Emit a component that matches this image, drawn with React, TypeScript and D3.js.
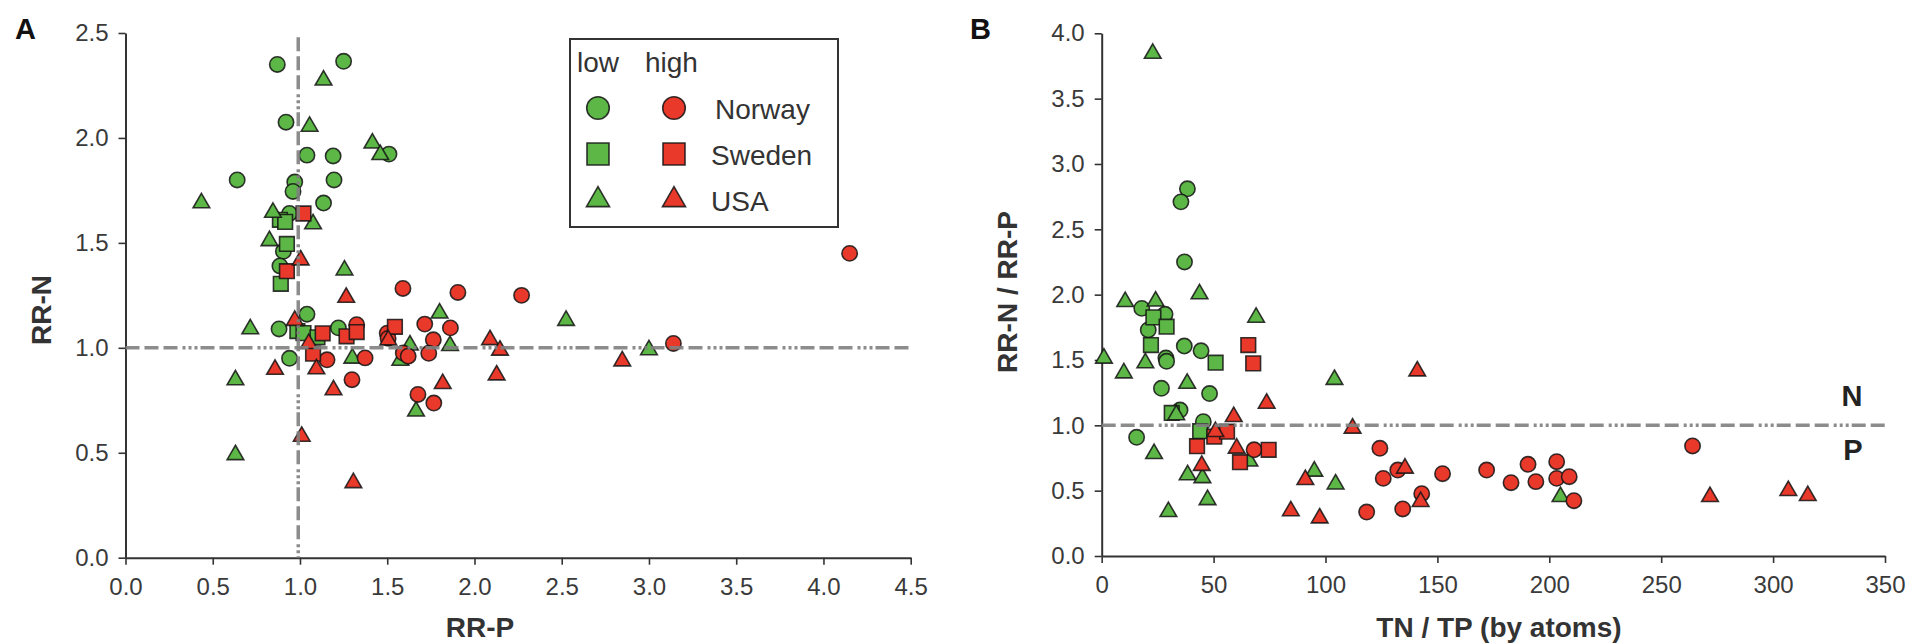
import { useEffect, useRef } from "react";
import * as d3 from "d3";

type Pt = [number, number];

// Panel A: RR-P (x) vs RR-N (y)
const aLowNorway: Pt[] = [
  [0.87, 2.35], [1.25, 2.365], [0.92, 2.075], [1.04, 1.918], [1.19, 1.914],
  [1.51, 1.923], [0.64, 1.8], [0.97, 1.79], [0.96, 1.745], [1.195, 1.8],
  [1.135, 1.69], [0.94, 1.64], [0.905, 1.46], [0.885, 1.39], [1.04, 1.16],
  [0.88, 1.09], [1.22, 1.095], [0.94, 0.95],
];
const aLowSweden: Pt[] = [
  [0.885, 1.61], [0.915, 1.6], [0.925, 1.495], [0.89, 1.305], [0.985, 1.08],
  [1.02, 1.07], [1.1, 1.05],
];
const aLowUSA: Pt[] = [
  [1.135, 2.275], [1.055, 2.055], [1.415, 1.975], [1.46, 1.92], [0.435, 1.69],
  [0.845, 1.645], [1.075, 1.59], [0.825, 1.51], [1.255, 1.37], [0.715, 1.09],
  [1.8, 1.165], [1.63, 1.013], [1.86, 1.01], [1.575, 0.94], [1.3, 0.95],
  [1.665, 0.698], [0.63, 0.847], [0.63, 0.49], [2.525, 1.13], [3.0, 0.99],
];
const aHighNorway: Pt[] = [
  [1.59, 1.283], [1.905, 1.264], [2.27, 1.25], [1.325, 1.11], [1.5, 1.07],
  [1.505, 1.045], [1.715, 1.113], [1.862, 1.095], [1.764, 1.038], [1.592, 0.975],
  [1.62, 0.96], [1.738, 0.974], [1.155, 0.943], [1.373, 0.952], [1.298, 0.848],
  [1.676, 0.778], [1.767, 0.737], [3.14, 1.021], [4.15, 1.45],
];
const aHighSweden: Pt[] = [
  [1.02, 1.64], [0.925, 1.365], [1.13, 1.069], [1.267, 1.055], [1.325, 1.075],
  [1.544, 1.1], [1.075, 0.972],
];
const aHighUSA: Pt[] = [
  [1.004, 1.418], [1.265, 1.24], [0.97, 1.13], [1.05, 1.02], [0.857, 0.897],
  [1.094, 0.899], [1.192, 0.799], [1.818, 0.829], [1.01, 0.578], [1.306, 0.357],
  [2.089, 1.038], [2.146, 0.988], [2.127, 0.87], [2.847, 0.937], [1.506, 1.037],
];

// Panel B: TN/TP (x) vs RR-N/RR-P (y)
const bLowNorway: Pt[] = [
  [38.3, 2.81], [35.4, 2.71], [37, 2.25], [17.9, 1.895], [28.3, 1.85],
  [20.8, 1.73], [36.9, 1.607], [44.4, 1.57], [28.7, 1.515], [29, 1.49],
  [26.7, 1.283], [48.2, 1.243], [35, 1.117], [45.4, 1.028], [15.6, 0.908],
];
const bLowSweden: Pt[] = [
  [23.1, 1.826], [29, 1.755], [22, 1.614], [50.9, 1.479], [31.3, 1.095],
  [44, 0.955],
];
const bLowUSA: Pt[] = [
  [22.8, 3.846], [43.7, 2.005], [10.5, 1.946], [24.1, 1.95], [69, 1.826],
  [1, 1.513], [9.9, 1.4], [19.5, 1.477], [38.2, 1.32], [33.3, 1.08],
  [23.4, 0.783], [66, 0.725], [38.4, 0.62], [45, 0.598], [47.3, 0.43],
  [29.8, 0.339], [95, 0.648], [104.5, 0.55], [104, 1.35], [205, 0.454],
];
const bHighNorway: Pt[] = [
  [68.1, 0.813], [124.3, 0.824], [125.8, 0.594], [132.3, 0.658], [118.4, 0.336],
  [134.5, 0.36], [143, 0.477], [152.3, 0.63], [172, 0.658], [182.9, 0.561],
  [190.5, 0.702], [194, 0.569], [203.3, 0.722], [203.3, 0.594], [208.9, 0.607],
  [211, 0.423], [264, 0.842],
];
const bHighSweden: Pt[] = [
  [65.5, 1.614], [67.7, 1.474], [42.6, 0.84], [50.3, 0.913], [56, 0.951],
  [61.8, 0.718], [74.6, 0.813],
];
const bHighUSA: Pt[] = [
  [73.7, 1.168], [59, 1.066], [50.8, 0.951], [44.7, 0.692], [60.3, 0.824],
  [84.5, 0.345], [91, 0.584], [97.4, 0.29], [112.1, 0.977], [141, 1.415],
  [135.5, 0.671], [142.5, 0.416], [271.8, 0.454], [306.8, 0.5], [315.5, 0.461],
];

// ticks
const xTicksA = [0, 0.5, 1, 1.5, 2, 2.5, 3, 3.5, 4, 4.5];
const yTicksA = [0, 0.5, 1, 1.5, 2, 2.5];
const xTicksB = [0, 50, 100, 150, 200, 250, 300, 350];
const yTicksB = [0, 0.5, 1, 1.5, 2, 2.5, 3, 3.5, 4];

const countries = ["Norway", "Sweden", "USA"];
const levels = ["low", "high"];

const FONT = "'Liberation Sans', Arial, Helvetica, sans-serif";
const INK = "#333";
const COLORS: Record<string, string> = { low: "#5cb746", high: "#e8392b" };
const SHAPES: Record<string, d3.SymbolType> = {
  Norway: d3.symbolCircle,
  Sweden: d3.symbolSquare,
  USA: d3.symbolTriangle,
};
// symbol areas for the plot markers
const SIZES: Record<string, number> = { Norway: 185, Sweden: 215, USA: 120 };

type Series = { level: string; country: string; pts: Pt[] };

const seriesA: Series[] = [
  { level: "low", country: "Norway", pts: aLowNorway },
  { level: "low", country: "Sweden", pts: aLowSweden },
  { level: "low", country: "USA", pts: aLowUSA },
  { level: "high", country: "Norway", pts: aHighNorway },
  { level: "high", country: "Sweden", pts: aHighSweden },
  { level: "high", country: "USA", pts: aHighUSA },
];
const seriesB: Series[] = [
  { level: "low", country: "Norway", pts: bLowNorway },
  { level: "low", country: "Sweden", pts: bLowSweden },
  { level: "low", country: "USA", pts: bLowUSA },
  { level: "high", country: "Norway", pts: bHighNorway },
  { level: "high", country: "Sweden", pts: bHighSweden },
  { level: "high", country: "USA", pts: bHighUSA },
];

type PanelOpts = {
  x: d3.ScaleLinear<number, number>;
  y: d3.ScaleLinear<number, number>;
  xTicks: number[];
  yTicks: number[];
  xFmt: (v: number) => string;
  series: Series[];
};

function drawPanel(
  svg: d3.Selection<SVGSVGElement, unknown, null, undefined>,
  { x, y, xTicks, yTicks, xFmt, series }: PanelOpts,
) {
  const g = svg.append("g");

  const styleAxis = (a: d3.Selection<SVGGElement, unknown, null, undefined>) => {
    a.select(".domain").attr("stroke", INK).attr("stroke-width", 2);
    a.selectAll(".tick line").attr("stroke", INK).attr("stroke-width", 1.6);
    a.selectAll("text")
      .attr("font-size", 24)
      .attr("font-family", FONT)
      .attr("fill", "#3a3a3a");
  };

  g.append("g")
    .attr("transform", `translate(0,${y(0)})`)
    .call(
      d3
        .axisBottom(x)
        .tickValues(xTicks)
        .tickSize(7)
        .tickSizeOuter(0)
        .tickPadding(13)
        .tickFormat((d) => xFmt(d as number)),
    )
    .call(styleAxis);

  g.append("g")
    .attr("transform", `translate(${x(0)},0)`)
    .call(
      d3
        .axisLeft(y)
        .tickValues(yTicks)
        .tickSize(7)
        .tickSizeOuter(0)
        .tickPadding(10)
        .tickFormat((d) => d3.format(".1f")(d as number)),
    )
    .call(styleAxis);

  // markers
  series.forEach((s) => {
    const sym = d3.symbol().type(SHAPES[s.country]).size(SIZES[s.country]);
    g.append("g")
      .selectAll("path")
      .data(s.pts)
      .join("path")
      .attr("transform", (d) => `translate(${x(d[0])},${y(d[1])})`)
      .attr("d", sym() as string)
      .attr("fill", COLORS[s.level])
      .attr("stroke", "rgba(20,20,20,0.85)")
      .attr("stroke-width", 1.6);
  });

  return g;
}

const REF_DASH = "14,5,14,5,14,5,3,3,3,3,3,3";
const REF_COLOR = "#808080";

export default function App() {
  const ref = useRef<SVGSVGElement>(null);

  useEffect(() => {
    if (!ref.current) return;
    const svg = d3.select(ref.current);
    svg.selectAll("*").remove();

    // ---- Panel A
    const xA = d3.scaleLinear().domain([0, 4.5]).range([125.5, 910.7]);
    const yA = d3.scaleLinear().domain([0, 2.5]).range([557.7, 33]);
    const gA = drawPanel(svg, {
      x: xA,
      y: yA,
      xTicks: xTicksA,
      yTicks: yTicksA,
      xFmt: d3.format(".1f"),
      series: seriesA,
    });

    // reference lines
    gA.append("line")
      .attr("x1", xA(0.99))
      .attr("x2", xA(0.99))
      .attr("y1", yA(2.48))
      .attr("y2", yA(0))
      .attr("stroke", REF_COLOR)
      .attr("stroke-width", 3.5)
      .attr("stroke-dasharray", REF_DASH)
      .attr("opacity", 0.9);
    gA.append("line")
      .attr("x1", xA(0))
      .attr("x2", xA(4.5))
      .attr("y1", yA(1))
      .attr("y2", yA(1))
      .attr("stroke", REF_COLOR)
      .attr("stroke-width", 3.5)
      .attr("stroke-dasharray", REF_DASH)
      .attr("opacity", 0.9);

    // legend
    const lg = gA.append("g");
    lg.append("rect")
      .attr("x", 570)
      .attr("y", 39)
      .attr("width", 268)
      .attr("height", 188)
      .attr("fill", "#fff")
      .attr("stroke", INK)
      .attr("stroke-width", 2);
    const colX: Record<string, number> = { low: 598, high: 674 };
    levels.forEach((lv) => {
      lg.append("text")
        .attr("x", lv === "low" ? 577 : 645)
        .attr("y", 72)
        .attr("font-size", 28)
        .attr("font-family", FONT)
        .attr("fill", INK)
        .text(lv);
    });
    const legSize: Record<string, number> = { Norway: 400, Sweden: 484, USA: 230 };
    countries.forEach((c, i) => {
      const cy = 108 + i * 46;
      levels.forEach((lv) => {
        lg.append("path")
          .attr("transform", `translate(${colX[lv]},${cy})`)
          .attr("d", d3.symbol().type(SHAPES[c]).size(legSize[c])() as string)
          .attr("fill", COLORS[lv])
          .attr("stroke", "rgba(20,20,20,0.85)")
          .attr("stroke-width", 1.6);
      });
      lg.append("text")
        .attr("x", c === "Norway" ? 715 : 711)
        .attr("y", cy + 10.5)
        .attr("font-size", 28)
        .attr("font-family", FONT)
        .attr("fill", INK)
        .text(c);
    });

    // axis labels
    svg.append("text")
      .attr("x", 480)
      .attr("y", 637)
      .attr("text-anchor", "middle")
      .attr("font-size", 28)
      .attr("font-weight", "bold")
      .attr("font-family", FONT)
      .attr("fill", INK)
      .text("RR-P");
    svg.append("text")
      .attr("transform", "translate(51,310) rotate(-90)")
      .attr("text-anchor", "middle")
      .attr("font-size", 28)
      .attr("font-weight", "bold")
      .attr("font-family", FONT)
      .attr("fill", INK)
      .text("RR-N");
    svg.append("text")
      .attr("x", 15)
      .attr("y", 39)
      .attr("font-size", 29)
      .attr("font-weight", "bold")
      .attr("font-family", FONT)
      .attr("fill", "#111")
      .text("A");

    // ---- Panel B
    const xB = d3.scaleLinear().domain([0, 350]).range([1101.7, 1885]);
    const yB = d3.scaleLinear().domain([0, 4]).range([556, 33.3]);
    const gB = drawPanel(svg, {
      x: xB,
      y: yB,
      xTicks: xTicksB,
      yTicks: yTicksB,
      xFmt: d3.format("d"),
      series: seriesB,
    });
    gB.append("line")
      .attr("x1", xB(0))
      .attr("x2", xB(350))
      .attr("y1", yB(1))
      .attr("y2", yB(1))
      .attr("stroke", REF_COLOR)
      .attr("stroke-width", 3.5)
      .attr("stroke-dasharray", REF_DASH)
      .attr("opacity", 0.9);
    gB.append("text")
      .attr("x", 1852)
      .attr("y", 406)
      .attr("text-anchor", "middle")
      .attr("font-size", 29)
      .attr("font-weight", "bold")
      .attr("font-family", FONT)
      .attr("fill", "#222")
      .text("N");
    gB.append("text")
      .attr("x", 1853)
      .attr("y", 460)
      .attr("text-anchor", "middle")
      .attr("font-size", 29)
      .attr("font-weight", "bold")
      .attr("font-family", FONT)
      .attr("fill", "#222")
      .text("P");

    svg.append("text")
      .attr("x", 1499)
      .attr("y", 637)
      .attr("text-anchor", "middle")
      .attr("font-size", 28)
      .attr("font-weight", "bold")
      .attr("font-family", FONT)
      .attr("fill", INK)
      .text("TN / TP (by atoms)");
    svg.append("text")
      .attr("transform", "translate(1017,292) rotate(-90)")
      .attr("text-anchor", "middle")
      .attr("font-size", 28)
      .attr("font-weight", "bold")
      .attr("font-family", FONT)
      .attr("fill", INK)
      .text("RR-N / RR-P");
    svg.append("text")
      .attr("x", 970)
      .attr("y", 39)
      .attr("font-size", 29)
      .attr("font-weight", "bold")
      .attr("font-family", FONT)
      .attr("fill", "#111")
      .text("B");
  }, []);

  return (
    <svg
      ref={ref}
      width={1922}
      height={644}
      style={{ position: "absolute", left: 0, top: 0, background: "#fff" }}
    />
  );
}
